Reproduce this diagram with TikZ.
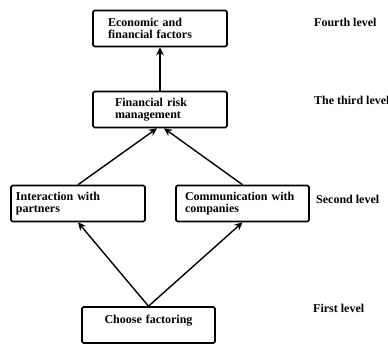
\documentclass[tikz,border=0pt]{standalone}
\usepackage{fontspec}
\setmainfont{Liberation Serif}
\usetikzlibrary{arrows.meta,positioning}

\begin{document}
\begin{tikzpicture}[x=1pt,y=-1pt,
	box/.style={draw,line width=1.6pt,rounded corners=1.5pt,minimum height=36pt,inner ysep=0pt,align=left,font=\bfseries\fontsize{12}{12.5}\selectfont},
	lvl/.style={anchor=base west,inner sep=0pt,font=\bfseries\fontsize{12}{12.5}\selectfont}]
\useasboundingbox (0,0) rectangle (388,343);

\node[box,inner xsep=15pt,text width=104pt] (econ) at (160,28.5) {Economic and\\financial factors};
\node[box,inner xsep=22pt,text width=90pt] (risk) at (160,109.5) {Financial risk\\management};
\node[box,inner xsep=5pt,text width=124pt] (inter) at (78,203.5) {Interaction with\\partners};
\node[box,inner xsep=9pt,text width=115pt] (comm) at (242.5,203.5) {Communication with\\companies};
\node[box,inner xsep=0pt,text width=133pt,align=center,text depth=12pt] (fact) at (148.5,325) {Choose factoring};

\node[lvl] (l4) at (314,26) {Fourth level};
\node[lvl] (l3) at (314,104) {The third level};
\node[lvl] (l2) at (316,203) {Second level};
\node[lvl] (l1) at (313,312) {First level};

\draw[->,>={Stealth[length=8pt,width=7.5pt]},line width=1.4pt] (risk) -- (econ);
\draw[->,>={Stealth[length=8pt,width=7.5pt]},line width=1.4pt] (inter.north) -- ([xshift=-3pt]risk.south);
\draw[->,>={Stealth[length=8pt,width=7.5pt]},line width=1.4pt] (comm.north) -- ([xshift=4pt]risk.south);
\draw[->,>={Stealth[length=8pt,width=7.5pt]},line width=1.4pt] (fact.north) -- (inter.south);
\draw[->,>={Stealth[length=8pt,width=7.5pt]},line width=1.4pt] (fact.north) -- (comm.south);

\end{tikzpicture}
\end{document}
